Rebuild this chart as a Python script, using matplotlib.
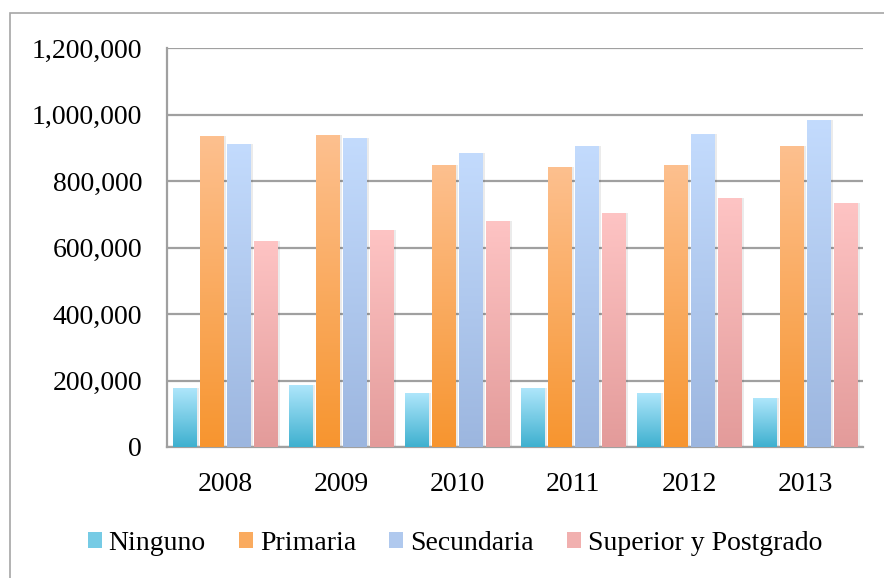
import numpy as np
import matplotlib
matplotlib.use("Agg")
import matplotlib.pyplot as plt
from matplotlib.colors import LinearSegmentedColormap
from matplotlib.patches import Rectangle, Patch
from matplotlib.ticker import FuncFormatter

# data
years = ["2008", "2009", "2010", "2011", "2012", "2013"]
series = ["Ninguno", "Primaria", "Secundaria", "Superior y Postgrado"]
ninguno = [177000, 186000, 162000, 177000, 162000, 147000]
primaria = [934000, 937000, 849000, 843000, 849000, 906000]
secundaria = [912000, 928000, 885000, 906000, 940000, 982000]
superior = [620000, 653000, 680000, 704000, 750000, 734000]
yticks = [0, 200000, 400000, 600000, 800000, 1000000, 1200000]

# gradient colours (top, bottom) per series
grad = [("#aee6fb", "#3eb0cf"), ("#fdc08f", "#f7952f"),
        ("#c3dbfd", "#9cb6df"), ("#fec4c4", "#e39b9a")]

plt.rcParams['font.family'] = ['Liberation Serif', 'DejaVu Serif']

fig = plt.figure(figsize=(8.84, 5.78), dpi=100)
ax = fig.add_axes([167 / 884, 1 - 447 / 578, 696 / 884, 399 / 578])

# outer frame (only left/top visible in the reference)
fig.patches.append(Rectangle((10 / 884, -0.1), 1.2, 1.1 - 13 / 578,
                             transform=fig.transFigure, fill=False,
                             edgecolor="#a6a6a6", linewidth=1.2, zorder=0))

x = np.arange(len(years))
width = 0.2
step = 0.233
values = [ninguno, primaria, secundaria, superior]

for i, (vals, (top, bot)) in enumerate(zip(values, grad)):
    pos = x + (i - 1.5) * step
    cmap = LinearSegmentedColormap.from_list(series[i], [bot, top])
    # soft shadow to the right
    ax.bar(pos + 0.025, vals, width, color="black", alpha=0.08, zorder=2)
    bars = ax.bar(pos, vals, width, color="none", zorder=3)
    for b in bars:
        x0, y0 = b.get_x(), b.get_y()
        w, h = b.get_width(), b.get_height()
        g = np.linspace(0, 1, 256).reshape(-1, 1)
        im = ax.imshow(g, cmap=cmap, aspect="auto", origin="lower",
                       extent=[x0, x0 + w, y0, y0 + h], zorder=3)
        im.set_clip_path(b)

ax.set_xlim(-0.5, len(years) - 0.5)
ax.set_ylim(0, 1200000)
ax.set_xticks(x)
ax.set_xticklabels(years)
ax.set_yticks(yticks)
ax.yaxis.set_major_formatter(FuncFormatter(lambda v, p: f"{int(v):,}"))
ax.tick_params(length=0, labelsize=20, pad=18, colors="black")
ax.yaxis.grid(True, color="#a0a0a0", linewidth=1.6, zorder=1)
ax.set_axisbelow(True)
for s in ["top", "right"]:
    ax.spines[s].set_visible(False)
for s in ["left", "bottom"]:
    ax.spines[s].set_color("#a0a0a0")
    ax.spines[s].set_linewidth(1.6)

handles = [Patch(facecolor=LinearSegmentedColormap.from_list("c", [b, t])(0.5))
           for t, b in grad]
fig.legend(handles, series, loc="center", bbox_to_anchor=(455 / 884, 1 - 543 / 578),
           ncol=4, frameon=False, fontsize=20, handlelength=0.5,
           handleheight=0.5, handletextpad=0.25, columnspacing=1.2,
           borderpad=0)

fig.savefig("out.png", dpi=100)
